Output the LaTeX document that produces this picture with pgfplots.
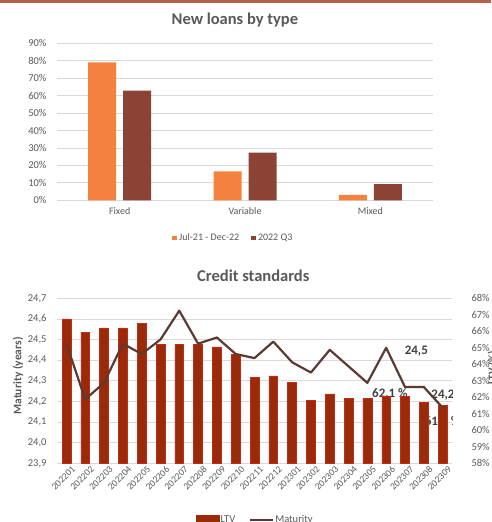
\documentclass[border=0pt]{standalone}
\usepackage{pgfplots}
\pgfplotsset{compat=1.18}
\usepackage{fontspec}
\setmainfont{Carlito}
\definecolor{stripe}{HTML}{B5614B}
\definecolor{orangeA}{HTML}{F4823E}
\definecolor{brownB}{HTML}{8A4334}
\definecolor{gridgray}{HTML}{D9D9D9}
\definecolor{textgray}{HTML}{595959}
\definecolor{ltvfill}{HTML}{9A2B08}
\definecolor{ltvedge}{HTML}{C8281A}
\definecolor{matline}{HTML}{5B3B31}
\definecolor{lblgray}{HTML}{404040}
\pgfplotsset{every axis title shift=0pt}
\begin{document}
\begin{tikzpicture}
\useasboundingbox (0pt,0pt) rectangle (491pt,522pt);
\fill[stripe] (0pt,518.5pt) rectangle (491pt,522pt);

% ---------------- Top chart ----------------
\begin{axis}[
  at={(57pt,321.7pt)}, anchor=south west,
  scale only axis, width=376pt, height=157pt,
  ymin=0, ymax=90, ytick={0,10,20,30,40,50,60,70,80,90},
  xmin=-0.5, xmax=2.5, xtick={0,1,2}, xticklabels={Fixed,Variable,Mixed},
  axis line style={draw=none}, major tick length=0pt,
  ymajorgrids, grid style={gridgray, line width=0.8pt},
  /pgf/number format/assume math mode=true,
  yticklabel={\pgfmathprintnumber{\tick}\%},
  yticklabel style={font=\fontsize{10.5}{12}\selectfont, text=textgray, xshift=-7pt},
  xticklabel style={font=\fontsize{10}{12}\selectfont, text=textgray, yshift=-4pt},
  title={New loans by type},
  title style={at={(0.473,1.15)}, anchor=center, font=\fontsize{16.5}{19}\selectfont\bfseries, text=textgray},
  ybar=7pt, bar width=28pt,
  legend style={at={(0.469,-0.24)}, anchor=center, draw=none, fill=none,
    legend columns=2, font=\fontsize{10}{12}\selectfont, text=textgray,
    /tikz/every even column/.append style={column sep=10pt}},
]
\addplot[fill=orangeA, draw=none,
  legend image code/.code={\fill[orangeA] (0pt,-2.4pt) rectangle (4.8pt,2.4pt);}]
  coordinates {(0,79.1) (1,16.6) (2,3.1)};
\addlegendentry{Jul-21 - Dec-22}
\addplot[fill=brownB, draw=none,
  legend image code/.code={\fill[brownB] (0pt,-2.4pt) rectangle (4.8pt,2.4pt);}]
  coordinates {(0,62.9) (1,27.3) (2,9.2)};
\addlegendentry{2022 Q3}
\end{axis}

% ---------------- Bottom chart: grid and left axis ----------------
\begin{axis}[
  at={(57pt,58.7pt)}, anchor=south west,
  scale only axis, width=395pt, height=165pt,
  xmin=-0.5, xmax=20.5, ymin=23.9, ymax=24.7,
  ytick={23.9,24,24.1,24.2,24.3,24.4,24.5,24.6,24.7},
  xtick={0,...,20},
  xticklabels={202201,202202,202203,202204,202205,202206,202207,202208,202209,202210,202211,202212,202301,202302,202303,202304,202305,202306,202307,202308,202309},
  axis line style={draw=none}, major tick length=0pt,
  ymajorgrids, grid style={gridgray, line width=0.8pt},
  /pgf/number format/assume math mode=true,
  yticklabel style={/pgf/number format/.cd, fixed, fixed zerofill, precision=1, use comma,
    /tikz/.cd, font=\fontsize{10.5}{12}\selectfont, text=textgray, xshift=-7pt},
  xticklabel style={font=\fontsize{9.5}{11}\selectfont, text=textgray, rotate=45, anchor=north east, inner sep=1pt, xshift=3pt, yshift=-4pt},
  title={Credit standards},
  title style={at={(0.497,1.135)}, anchor=center, font=\fontsize{16.5}{19}\selectfont\bfseries, text=textgray},
  ylabel={Maturity (years)},
  ylabel style={at={(axis description cs:-0.0987,0.529)}, anchor=center, font=\fontsize{11.5}{13}\selectfont\bfseries, text=textgray},
]
\end{axis}

% ---------------- Bottom chart: LTV bars (right axis) ----------------
\begin{axis}[
  at={(57pt,58.7pt)}, anchor=south west,
  scale only axis, width=395pt, height=165pt,
  xmin=-0.5, xmax=20.5, ymin=58, ymax=68,
  ytick={58,59,60,61,62,63,64,65,66,67,68},
  xtick=\empty, yticklabel pos=right,
  axis line style={draw=none}, major tick length=0pt,
  /pgf/number format/assume math mode=true,
  yticklabel={\pgfmathprintnumber{\tick}\%},
  yticklabel style={font=\fontsize{10.5}{12}\selectfont, text=textgray, xshift=16pt},
  ylabel={LTV (\%)},
  ylabel style={at={(axis description cs:1.103,0.581)}, anchor=center, font=\fontsize{11}{13}\selectfont\bfseries, text=textgray},
  ybar, bar width=8.8pt,
]
\node[font=\fontsize{13}{15}\selectfont\bfseries, text=lblgray] at (axis cs:17.2,62.2) {62,1 \%};
\node[font=\fontsize{13}{15}\selectfont\bfseries, text=lblgray] at (axis cs:20.0,60.5) {61,5 \%};
\addplot[fill=ltvfill, draw=ltvedge, line width=0.5pt] coordinates {
 (0,66.75) (1,65.95) (2,66.2) (3,66.2) (4,66.5) (5,65.2) (6,65.2) (7,65.2)
 (8,65.05) (9,64.6) (10,63.2) (11,63.3) (12,62.9) (13,61.8) (14,62.2)
 (15,61.95) (16,61.95) (17,62.05) (18,62.05) (19,61.7) (20,61.5)};
\end{axis}

% ---------------- Bottom chart: Maturity line ----------------
\begin{axis}[
  at={(57pt,58.7pt)}, anchor=south west,
  scale only axis, width=395pt, height=165pt,
  xmin=-0.5, xmax=20.5, ymin=23.9, ymax=24.7,
  hide axis,
  legend style={at={(0.501,-0.344)}, anchor=center, draw=none, fill=none,
    legend columns=2, font=\fontsize{10.5}{12}\selectfont, text=textgray,
    nodes={inner sep=1.5pt},
    /tikz/every even column/.append style={column sep=12pt}},
]
\addlegendimage{legend image code/.code={\fill[ltvfill] (0pt,-5pt) rectangle (23pt,5pt);}}
\addlegendentry{LTV}
\addplot[matline, line width=2.2pt, line join=round, mark=none,
  legend image code/.code={\draw[matline, line width=2pt] (0pt,0pt) -- (23pt,0pt);}]
  coordinates {
 (0,24.48) (1,24.21) (2,24.29) (3,24.48) (4,24.43) (5,24.50) (6,24.64) (7,24.48)
 (8,24.51) (9,24.43) (10,24.41) (11,24.49) (12,24.39) (13,24.34) (14,24.45)
 (15,24.37) (16,24.29) (17,24.46) (18,24.27) (19,24.27) (20,24.17)};
\addlegendentry{Maturity}
\node[font=\fontsize{13}{15}\selectfont\bfseries, text=lblgray, anchor=west] at (axis cs:17.8,24.444) {24,5};
\node[font=\fontsize{13}{15}\selectfont\bfseries, text=lblgray] at (axis cs:20.02,24.231) {24,2};
\end{axis}
\end{tikzpicture}
\end{document}
